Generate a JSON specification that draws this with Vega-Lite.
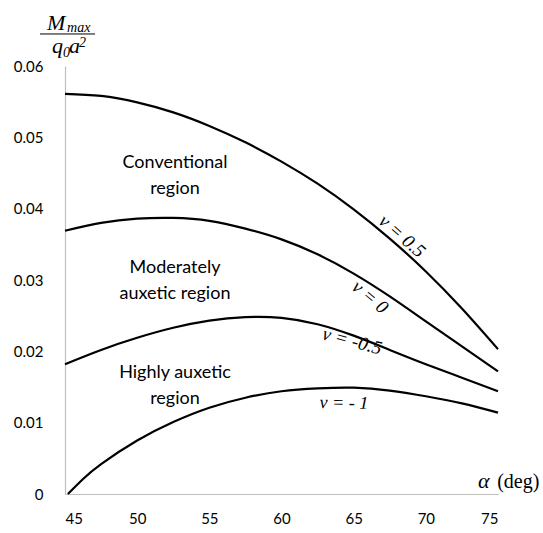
{
  "$schema": "https://vega.github.io/schema/vega-lite/v6.json",
  "width": 433,
  "height": 428,
  "autosize": {"type": "none"},
  "padding": {"left": 65, "top": 66, "right": 45, "bottom": 39},
  "background": "white",
  "config": {
    "view": {"stroke": null},
    "axis": {"grid": false, "ticks": false, "domainColor": "#bfbfbf", "domainWidth": 1.2, "labelFont": "Lato", "labelFontSize": 15, "labelColor": "#000000", "title": null}
  },
  "layer": [
    {
      "data": {"values": [
        {"alpha": 45, "M": 0.0561, "nu": "0.5"},
        {"alpha": 47.5, "M": 0.0558, "nu": "0.5"},
        {"alpha": 50, "M": 0.0549, "nu": "0.5"},
        {"alpha": 52.5, "M": 0.0535, "nu": "0.5"},
        {"alpha": 55, "M": 0.0516, "nu": "0.5"},
        {"alpha": 57.5, "M": 0.0493, "nu": "0.5"},
        {"alpha": 60, "M": 0.0466, "nu": "0.5"},
        {"alpha": 62.5, "M": 0.0435, "nu": "0.5"},
        {"alpha": 65, "M": 0.0399, "nu": "0.5"},
        {"alpha": 67.5, "M": 0.0358, "nu": "0.5"},
        {"alpha": 70, "M": 0.0312, "nu": "0.5"},
        {"alpha": 72.5, "M": 0.0260, "nu": "0.5"},
        {"alpha": 75, "M": 0.0203, "nu": "0.5"},
        {"alpha": 45, "M": 0.0369, "nu": "0"},
        {"alpha": 47.5, "M": 0.0380, "nu": "0"},
        {"alpha": 50, "M": 0.0386, "nu": "0"},
        {"alpha": 52.5, "M": 0.0387, "nu": "0"},
        {"alpha": 55, "M": 0.0383, "nu": "0"},
        {"alpha": 57.5, "M": 0.0372, "nu": "0"},
        {"alpha": 60, "M": 0.0357, "nu": "0"},
        {"alpha": 62.5, "M": 0.0336, "nu": "0"},
        {"alpha": 65, "M": 0.0309, "nu": "0"},
        {"alpha": 67.5, "M": 0.0277, "nu": "0"},
        {"alpha": 70, "M": 0.0242, "nu": "0"},
        {"alpha": 72.5, "M": 0.0207, "nu": "0"},
        {"alpha": 75, "M": 0.0172, "nu": "0"},
        {"alpha": 45, "M": 0.0182, "nu": "-0.5"},
        {"alpha": 47.5, "M": 0.0202, "nu": "-0.5"},
        {"alpha": 50, "M": 0.0219, "nu": "-0.5"},
        {"alpha": 52.5, "M": 0.0233, "nu": "-0.5"},
        {"alpha": 55, "M": 0.0243, "nu": "-0.5"},
        {"alpha": 57.5, "M": 0.0248, "nu": "-0.5"},
        {"alpha": 60, "M": 0.0247, "nu": "-0.5"},
        {"alpha": 62.5, "M": 0.0238, "nu": "-0.5"},
        {"alpha": 65, "M": 0.0222, "nu": "-0.5"},
        {"alpha": 67.5, "M": 0.0202, "nu": "-0.5"},
        {"alpha": 70, "M": 0.0182, "nu": "-0.5"},
        {"alpha": 72.5, "M": 0.0163, "nu": "-0.5"},
        {"alpha": 75, "M": 0.0144, "nu": "-0.5"},
        {"alpha": 45.2, "M": 0.0, "nu": "-1"},
        {"alpha": 46.25, "M": 0.0021, "nu": "-1"},
        {"alpha": 47.5, "M": 0.0042, "nu": "-1"},
        {"alpha": 50, "M": 0.0075, "nu": "-1"},
        {"alpha": 52.5, "M": 0.0101, "nu": "-1"},
        {"alpha": 55, "M": 0.0121, "nu": "-1"},
        {"alpha": 57.5, "M": 0.0135, "nu": "-1"},
        {"alpha": 60, "M": 0.0144, "nu": "-1"},
        {"alpha": 62.5, "M": 0.0148, "nu": "-1"},
        {"alpha": 65, "M": 0.0149, "nu": "-1"},
        {"alpha": 67.5, "M": 0.0145, "nu": "-1"},
        {"alpha": 70, "M": 0.0137, "nu": "-1"},
        {"alpha": 72.5, "M": 0.0127, "nu": "-1"},
        {"alpha": 75, "M": 0.0114, "nu": "-1"}
      ]},
      "mark": {"type": "line", "color": "#000000", "strokeWidth": 2.2, "interpolate": "natural"},
      "encoding": {
        "x": {"field": "alpha", "type": "quantitative", "scale": {"domain": [45, 75], "nice": false, "zero": false}, "axis": {"values": [45, 50, 55, 60, 65, 70, 75], "labelPadding": 17, "title": null}},
        "y": {"field": "M", "type": "quantitative", "scale": {"domain": [0, 0.06], "nice": false}, "axis": {"values": [0, 0.01, 0.02, 0.03, 0.04, 0.05, 0.06], "format": ".2~f", "labelPadding": 22, "title": null}},
        "detail": {"field": "nu", "type": "nominal"}
      }
    },
    {
      "data": {"values": [
        {"alpha": 52.62, "M": 0.04647, "t": "Conventional\nregion"},
        {"alpha": 52.62, "M": 0.03168, "t": "Moderately\nauxetic region"},
        {"alpha": 52.62, "M": 0.01696, "t": "Highly auxetic\nregion"}
      ]},
      "mark": {"type": "text", "font": "Lato", "fontSize": 18, "lineBreak": "\n", "lineHeight": 26, "align": "center", "baseline": "middle", "color": "#000000"},
      "encoding": {
        "x": {"field": "alpha", "type": "quantitative"},
        "y": {"field": "M", "type": "quantitative"},
        "text": {"field": "t"}
      }
    },
    {
      "data": {"values": [{"alpha": 68.35, "M": 0.03617, "t": "ν = 0.5"}]},
      "mark": {"type": "text", "font": "Liberation Serif", "fontStyle": "italic", "fontSize": 19, "angle": 41, "align": "center", "baseline": "middle", "color": "#000000"},
      "encoding": {"x": {"field": "alpha", "type": "quantitative"}, "y": {"field": "M", "type": "quantitative"}, "text": {"field": "t"}}
    },
    {
      "data": {"values": [{"alpha": 66.14, "M": 0.02762, "t": "ν = 0"}]},
      "mark": {"type": "text", "font": "Liberation Serif", "fontStyle": "italic", "fontSize": 19, "angle": 40, "align": "center", "baseline": "middle", "color": "#000000"},
      "encoding": {"x": {"field": "alpha", "type": "quantitative"}, "y": {"field": "M", "type": "quantitative"}, "text": {"field": "t"}}
    },
    {
      "data": {"values": [{"alpha": 64.89, "M": 0.02145, "t": "ν = -0.5"}]},
      "mark": {"type": "text", "font": "Liberation Serif", "fontStyle": "italic", "fontSize": 19, "angle": 15, "align": "center", "baseline": "middle", "color": "#000000"},
      "encoding": {"x": {"field": "alpha", "type": "quantitative"}, "y": {"field": "M", "type": "quantitative"}, "text": {"field": "t"}}
    },
    {
      "data": {"values": [{"alpha": 64.33, "M": 0.01268, "t": "ν = - 1"}]},
      "mark": {"type": "text", "font": "Liberation Serif", "fontStyle": "italic", "fontSize": 18, "angle": 1, "align": "center", "baseline": "middle", "color": "#000000"},
      "encoding": {"x": {"field": "alpha", "type": "quantitative"}, "y": {"field": "M", "type": "quantitative"}, "text": {"field": "t"}}
    },
    {
      "data": {"values": [
        {"alpha": 43.75, "M": 0.06505, "t": "M"},
        {"alpha": 44.10, "M": 0.06182, "t": "q"},
        {"alpha": 45.28, "M": 0.06182, "t": "a"},
        {"alpha": 73.62, "M": 0.00084, "t": "α"}
      ]},
      "mark": {"type": "text", "font": "Liberation Serif", "fontStyle": "italic", "fontSize": 22, "align": "left", "baseline": "alphabetic", "color": "#000000"},
      "encoding": {"x": {"field": "alpha", "type": "quantitative"}, "y": {"field": "M", "type": "quantitative"}, "text": {"field": "t"}}
    },
    {
      "data": {"values": [
        {"alpha": 45.14, "M": 0.06477, "t": "max"},
        {"alpha": 44.86, "M": 0.06126, "t": "0"},
        {"alpha": 45.97, "M": 0.06266, "t": "2"}
      ]},
      "mark": {"type": "text", "font": "Liberation Serif", "fontStyle": "italic", "fontSize": 14, "align": "left", "baseline": "alphabetic", "color": "#000000"},
      "encoding": {"x": {"field": "alpha", "type": "quantitative"}, "y": {"field": "M", "type": "quantitative"}, "text": {"field": "t"}}
    },
    {
      "data": {"values": [{"alpha": 74.94, "M": 0.00084, "t": "(deg)"}]},
      "mark": {"type": "text", "font": "Liberation Serif", "fontSize": 20, "align": "left", "baseline": "alphabetic", "color": "#000000"},
      "encoding": {"x": {"field": "alpha", "type": "quantitative"}, "y": {"field": "M", "type": "quantitative"}, "text": {"field": "t"}}
    },
    {
      "data": {"values": [{"alpha": 43.27, "alpha2": 47.08, "M": 0.06449}]},
      "mark": {"type": "rule", "color": "#000000", "strokeWidth": 1},
      "encoding": {"x": {"field": "alpha", "type": "quantitative"}, "x2": {"field": "alpha2"}, "y": {"field": "M", "type": "quantitative"}}
    }
  ]
}
